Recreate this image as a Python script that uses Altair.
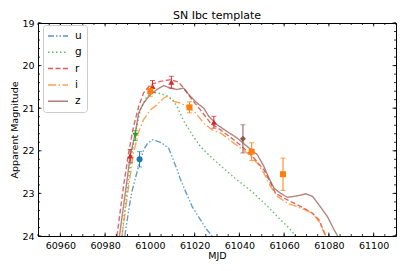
import altair as alt
import pandas as pd

# ---------------- data ----------------
bands = ["u", "g", "r", "i", "z"]
band_colors = ["#1f77b4", "#2ca02c", "#d62728", "#ff7f0e", "#8c564b"]
band_dashes = [[6, 2, 1.5, 2, 1.5, 2], [1.5, 2.5], [5, 2.5], [8, 2.5, 1.5, 2.5], [1, 0]]
band_shapes = ["circle", "triangle-down", "triangle-up", "square", "diamond"]

u_mjd = [60988.8, 60990.5, 60992, 60993.5, 60995, 60997.2, 60999, 61001.3, 61003.5, 61005.4,
         61008.4, 61009.9, 61012.2, 61013.5, 61015.5, 61018.9, 61022.6, 61025.6, 61027.8]
u_mag = [24.0, 23.4, 22.95, 22.65, 22.35, 21.98, 21.82, 21.74, 21.78, 21.82,
         21.94, 22.14, 22.45, 22.65, 22.9, 23.31, 23.62, 23.86, 24.0]

g_mjd = [60987.5, 60989.7, 60992, 60993.5, 60995.7, 60998.7, 61001, 61005, 61008, 61010, 61012.2,
         61015.1, 61019.6, 61022.6, 61025.6, 61031.6, 61037.5, 61046.5, 61052.5, 61058, 61062, 61065.2]
g_mag = [24, 23.0, 22.05, 21.58, 21.04, 20.72, 20.62, 20.66, 20.72, 20.8, 20.96,
         21.3, 21.68, 21.9, 22.06, 22.35, 22.62, 23.0, 23.3, 23.6, 23.8, 24]

r_mjd = [60985.3, 60988.2, 60990.5, 60992.7, 60995, 60997.2, 61000.2, 61004.7, 61009.2, 61012.9,
         61015.1, 61018.9, 61022.6, 61027.1, 61031.6, 61037.5, 61042, 61046.5, 61051, 61054,
         61056.2, 61060, 61064.4, 61068.9, 61072.7, 61075.6, 61078.6]
r_mag = [24, 22.84, 22.05, 21.43, 20.96, 20.64, 20.45, 20.37, 20.33, 20.39,
         20.53, 20.8, 21.04, 21.35, 21.51, 21.74, 21.94, 22.17, 22.45, 22.76,
         23.0, 23.11, 23.23, 23.35, 23.47, 23.62, 24]

i_mjd = [60987.5, 60990.5, 60992.7, 60995, 60997.2, 61000.2, 61003.2, 61006.2, 61007.7, 61010.7,
         61013.7, 61016.6, 61020.4, 61024.1, 61027.8, 61031.6, 61037.5, 61043.5, 61048, 61051,
         61054, 61057, 61061.4, 61065.9, 61069.7, 61072.7, 61075.6, 61078.6]
i_mag = [24, 22.84, 22.05, 21.55, 21.27, 21.04, 20.92, 20.76, 20.72, 20.84,
         20.88, 20.96, 21.11, 21.35, 21.51, 21.58, 21.82, 22.05, 22.29, 22.53,
         22.84, 23.07, 23.23, 23.31, 23.39, 23.47, 23.66, 24]

z_mjd = [60986.4, 60989, 60991.2, 60993.5, 60995, 60997.2, 61000.2, 61003.2, 61006.2, 61009.2,
         61012.1, 61015.1, 61018.1, 61021.1, 61024.1, 61026.3, 61030.1, 61034.6, 61039, 61043.5,
         61048, 61051, 61053.2, 61055.5, 61058.5, 61061.4, 61064.4, 61067.4, 61069.7, 61072.7,
         61075.6, 61079.4, 61082.4, 61083.9]
z_mag = [24, 23.0, 22.13, 21.58, 21.11, 20.88, 20.68, 20.56, 20.47, 20.53,
         20.56, 20.53, 20.72, 20.88, 21.0, 21.19, 21.39, 21.55, 21.7, 21.9,
         22.09, 22.37, 22.64, 22.88, 23.0, 23.09, 23.07, 23.04, 23.01, 23.07,
         23.27, 23.55, 23.86, 24]

# observed photometry
obs_band = ["r", "r", "r", "r", "g", "u", "i", "i", "i", "i", "z"]
obs_mjd = [60991.2, 61001.2, 61009.6, 61028.6, 60993.5, 60995.4, 61000.2, 61017.7, 61045.5, 61059.5, 61041.6]
obs_mag = [22.12, 20.49, 20.39, 21.33, 21.64, 22.2, 20.6, 20.98, 22.02, 22.55, 21.72]
obs_err = [0.15, 0.14, 0.14, 0.14, 0.12, 0.18, 0.12, 0.13, 0.21, 0.38, 0.33]

x_major = [60960, 60980, 61000, 61020, 61040, 61060, 61080, 61100]
x_minor = list(range(60950, 61111, 5))
y_major = [19, 20, 21, 22, 23, 24]
y_minor = [19 + 0.2 * k for k in range(26)]

# ---------------- tables ----------------
curves = {"u": (u_mjd, u_mag), "g": (g_mjd, g_mag), "r": (r_mjd, r_mag), "i": (i_mjd, i_mag), "z": (z_mjd, z_mag)}
rows = []
for b, (xs, ys) in curves.items():
    for k, (x, y) in enumerate(zip(xs, ys)):
        rows.append({"band": b, "mjd": x, "mag": y, "order": k})
lines_df = pd.DataFrame(rows)

obs_df = pd.DataFrame({"pband": obs_band, "mjd": obs_mjd, "mag": obs_mag, "err": obs_err})
obs_df["lo"] = obs_df["mag"] - obs_df["err"]
obs_df["hi"] = obs_df["mag"] + obs_df["err"]

W, H = 358, 213
FONT = "DejaVu Sans"

xscale = alt.Scale(domain=[60950, 61110], nice=False, zero=False)
yscale = alt.Scale(domain=[19, 24], reverse=True, nice=False, zero=False)
cscale = alt.Scale(domain=bands, range=band_colors)
dscale = alt.Scale(domain=bands, range=band_dashes)

xaxis = alt.Axis(values=x_major, format="d", title="MJD", labelPadding=4, titlePadding=1)
yaxis = alt.Axis(values=y_major, format="d", title="Apparent Magnitude", labelPadding=4, titlePadding=2)

legend = alt.Legend(title=None, orient="none", legendX=5, legendY=2, symbolType="M-1.2,0H2.8",
                    symbolSize=100, symbolStrokeWidth=1.5, symbolOpacity=0.75, labelFontSize=10.5,
                    labelFont=FONT, labelOffset=15, rowPadding=4.3, padding=5,
                    strokeColor="#cccccc", fillColor="white", cornerRadius=3)

lines = alt.Chart(lines_df).mark_line(strokeWidth=1.4, opacity=0.7, clip=True).encode(
    x=alt.X("mjd:Q", scale=xscale, axis=xaxis),
    y=alt.Y("mag:Q", scale=yscale, axis=yaxis),
    color=alt.Color("band:N", scale=cscale, legend=legend, sort=bands),
    strokeDash=alt.StrokeDash("band:N", scale=dscale, legend=legend, sort=bands),
    order="order:Q",
    detail="band:N",
)

obs_layers = []
for b, col, shp in zip(bands, band_colors, band_shapes):
    base = alt.Chart(obs_df).transform_filter(alt.datum.pband == b)
    obs_layers += [
        base.mark_rule(strokeWidth=1, color=col, clip=True).encode(x="mjd:Q", y="lo:Q", y2="hi:Q"),
        base.mark_tick(orient="horizontal", size=5, thickness=1, color=col, clip=True).encode(x="mjd:Q", y="lo:Q"),
        base.mark_tick(orient="horizontal", size=5, thickness=1, color=col, clip=True).encode(x="mjd:Q", y="hi:Q"),
        base.mark_point(filled=True, size=36, opacity=1, shape=shp, color=col, clip=True).encode(x="mjd:Q", y="mag:Q"),
    ]

# inward ticks on all four sides
xmaj_df = pd.DataFrame({"t": x_major})
xmin_df = pd.DataFrame({"t": x_minor})
ymaj_df = pd.DataFrame({"t": y_major})
ymin_df = pd.DataFrame({"t": y_minor})

def xt(df, L, top):
    y1, y2 = (0, L) if top else (H, H - L)
    return alt.Chart(df).mark_rule(color="black", strokeWidth=0.8).encode(
        x=alt.X("t:Q", scale=xscale), y=alt.value(y1), y2=alt.value(y2))

def yt(df, L, right):
    x1, x2 = (W, W - L) if right else (0, L)
    return alt.Chart(df).mark_rule(color="black", strokeWidth=0.8).encode(
        y=alt.Y("t:Q", scale=yscale), x=alt.value(x1), x2=alt.value(x2))

ticks = [xt(xmaj_df, 3.5, False), xt(xmaj_df, 3.5, True), xt(xmin_df, 2, False), xt(xmin_df, 2, True),
         yt(ymaj_df, 3.5, False), yt(ymaj_df, 3.5, True), yt(ymin_df, 2, False), yt(ymin_df, 2, True)]

chart = alt.layer(lines, *obs_layers, *ticks).properties(
    width=W, height=H,
    title=alt.TitleParams("SN Ibc template", font=FONT, fontSize=11, fontWeight="normal",
                          offset=5, dy=8, color="black", frame="group"),
    autosize=alt.AutoSizeParams(type="none"),
    padding={"left": 30, "top": 15, "right": 3, "bottom": 27},
).configure_view(stroke="black", strokeWidth=1).configure_axis(
    domain=False, ticks=False, grid=False, labelFont=FONT, titleFont=FONT, labelFontSize=9.5,
    titleFontSize=9.5, titleFontWeight="normal", labelColor="black", titleColor="black",
).configure_legend(labelColor="black")

chart.save("out.html", embed_options={"renderer": "svg", "actions": False})
